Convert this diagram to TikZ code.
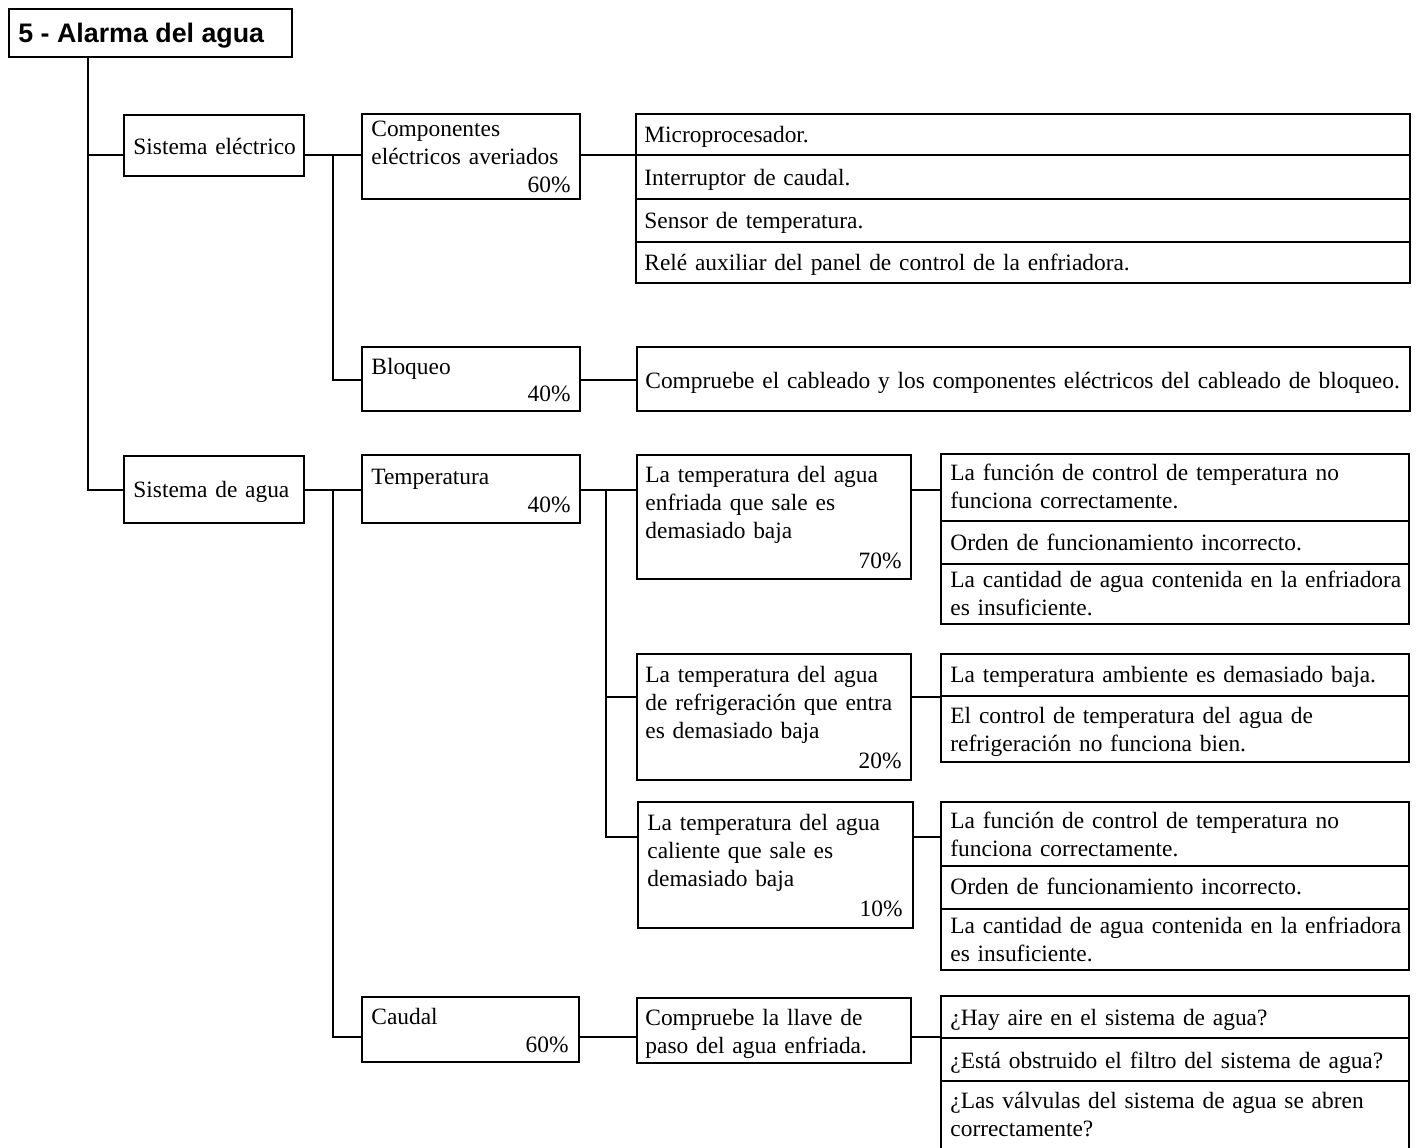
\documentclass[tikz,border=0pt]{standalone}
\usepackage{fontspec}
\setmainfont{Liberation Serif}
\newfontfamily\titlefont{Liberation Sans}
\usetikzlibrary{fit}
\tikzset{
  box/.style={draw, line width=0.7pt, rectangle, inner sep=0pt},
  conn/.style={draw, line width=0.7pt},
  txt/.style={inner sep=0pt, anchor=base west, text width=400pt, align=left, font=\fontsize{11.7}{14.2}\selectfont},
  pct/.style={inner sep=0pt, anchor=base east, font=\fontsize{11.7}{14.2}\selectfont},
}
\begin{document}
\begin{tikzpicture}[x=0.5pt,y=-0.5pt]
\useasboundingbox (0,0) rectangle (1416,1147);
% level coordinates
\coordinate (L155) at (0,155);
\coordinate (L380) at (0,380);
\coordinate (L490) at (0,490);
\coordinate (L697) at (0,697);
\coordinate (L837) at (0,837);
\coordinate (L1037) at (0,1037);
\coordinate (X88) at (88,0);
\coordinate (X333) at (333,0);
\coordinate (X606) at (606,0);
% boxes
\node[box, fit={(9,9) (292,57)}] (title) {};
\node[box, fit={(124,115) (304,176)}] (se) {};
\node[box, fit={(124,456) (304,523)}] (sa) {};
\node[box, fit={(362,114) (580,199)}] (cea) {};
\node[box, fit={(362,347) (580,411)}] (blo) {};
\node[box, fit={(636,114) (1410,155)}] (tab1a) {};
\node[box, fit={(636,155) (1410,199)}] (tab1b) {};
\node[box, fit={(636,199) (1410,242)}] (tab1c) {};
\node[box, fit={(636,242) (1410,283)}] (tab1d) {};
\node[box, fit={(637,347) (1410,411)}] (chk) {};
\node[box, fit={(362,455) (580,523)}] (temp) {};
\node[box, fit={(362,997) (579,1062)}] (cau) {};
\node[box, fit={(637,455) (911,579)}] (t1) {};
\node[box, fit={(637,654) (911,780)}] (t2) {};
\node[box, fit={(638,802) (913,928)}] (t3) {};
\node[box, fit={(637,998) (911,1063)}] (llave) {};
\node[box, fit={(941,454) (1409,521)}] (r1a) {};
\node[box, fit={(941,521) (1409,564)}] (r1b) {};
\node[box, fit={(941,564) (1409,624)}] (r1c) {};
\node[box, fit={(941,654) (1409,696)}] (r2a) {};
\node[box, fit={(941,696) (1409,762)}] (r2b) {};
\node[box, fit={(941,802) (1409,866)}] (r3a) {};
\node[box, fit={(941,866) (1409,909)}] (r3b) {};
\node[box, fit={(941,909) (1409,970)}] (r3c) {};
\node[box, fit={(941,996) (1409,1038)}] (r4a) {};
\node[box, fit={(941,1038) (1409,1081)}] (r4b) {};
\node[box, fit={(941,1081) (1409,1152)}] (r4c) {};
% texts
\node[inner sep=0pt, anchor=base west, font=\titlefont\bfseries\fontsize{13.4}{15}\selectfont] (title-t) at (18,42) {5 - Alarma del agua};
\node[txt] (se-t) at (133,154) {Sistema eléctrico};
\node[txt] (sa-t) at (133,497) {Sistema de agua};
\node[txt] (cea-t) at (371,136) {Componentes\\eléctricos averiados};
\node[pct] (cea-p) at (571,192) {60\%};
\node[txt] (blo-t) at (371,374) {Bloqueo};
\node[pct] (blo-p) at (571,401) {40\%};
\node[txt] (tab1a-t) at (644,142) {Microprocesador.};
\node[txt] (tab1b-t) at (644,185) {Interruptor de caudal.};
\node[txt] (tab1c-t) at (644,228) {Sensor de temperatura.};
\node[txt] (tab1d-t) at (644,270) {Relé auxiliar del panel de control de la enfriadora.};
\node[txt] (chk-t) at (645,388) {Compruebe el cableado y los componentes eléctricos del cableado de bloqueo.};
\node[txt] (temp-t) at (371,484) {Temperatura};
\node[pct] (temp-p) at (571,512) {40\%};
\node[txt] (cau-t) at (371,1024) {Caudal};
\node[pct] (cau-p) at (569,1052) {60\%};
\node[txt] (t1-t) at (645,482) {La temperatura del agua\\enfriada que sale es\\demasiado baja};
\node[pct] (t1-p) at (902,568) {70\%};
\node[txt] (t2-t) at (645,682) {La temperatura del agua\\de refrigeración que entra\\es demasiado baja};
\node[pct] (t2-p) at (902,768) {20\%};
\node[txt] (t3-t) at (647,830) {La temperatura del agua\\caliente que sale es\\demasiado baja};
\node[pct] (t3-p) at (903,916) {10\%};
\node[txt] (llave-t) at (645,1025) {Compruebe la llave de\\paso del agua enfriada.};
\node[txt] (r1a-t) at (950,480) {La función de control de temperatura no\\funciona correctamente.};
\node[txt] (r1b-t) at (950,550) {Orden de funcionamiento incorrecto.};
\node[txt] (r1c-t) at (950,587) {La cantidad de agua contenida en la enfriadora\\es insuficiente.};
\node[txt] (r2a-t) at (950,682) {La temperatura ambiente es demasiado baja.};
\node[txt] (r2b-t) at (950,723) {El control de temperatura del agua de\\refrigeración no funciona bien.};
\node[txt] (r3a-t) at (950,828) {La función de control de temperatura no\\funciona correctamente.};
\node[txt] (r3b-t) at (950,894) {Orden de funcionamiento incorrecto.};
\node[txt] (r3c-t) at (950,933) {La cantidad de agua contenida en la enfriadora\\es insuficiente.};
\node[txt] (r4a-t) at (950,1025) {¿Hay aire en el sistema de agua?};
\node[txt] (r4b-t) at (950,1068) {¿Está obstruido el filtro del sistema de agua?};
\node[txt] (r4c-t) at (950,1108) {¿Las válvulas del sistema de agua se abren\\correctamente?};
% connectors
\draw[conn] (title.south -| X88) |- (se.west |- L155);
\draw[conn] (title.south -| X88) |- (sa.west |- L490);
\draw[conn] (se.east |- L155) -- (cea.west |- L155);
\draw[conn] (X333 |- L155) |- (blo.west |- L380);
\draw[conn] (cea.east |- L155) -- (tab1a.west |- L155);
\draw[conn] (blo.east |- L380) -- (chk.west |- L380);
\draw[conn] (sa.east |- L490) -- (temp.west |- L490);
\draw[conn] (X333 |- L490) |- (cau.west |- L1037);
\draw[conn] (temp.east |- L490) -- (t1.west |- L490);
\draw[conn] (X606 |- L490) |- (t2.west |- L697);
\draw[conn] (X606 |- L490) |- (t3.west |- L837);
\draw[conn] (t1.east |- L490) -- (r1a.west |- L490);
\draw[conn] (t2.east |- L697) -- (r2a.west |- L697);
\draw[conn] (t3.east |- L837) -- (r3a.west |- L837);
\draw[conn] (cau.east |- L1037) -- (llave.west |- L1037);
\draw[conn] (llave.east |- L1037) -- (r4a.west |- L1037);
\end{tikzpicture}
\end{document}
